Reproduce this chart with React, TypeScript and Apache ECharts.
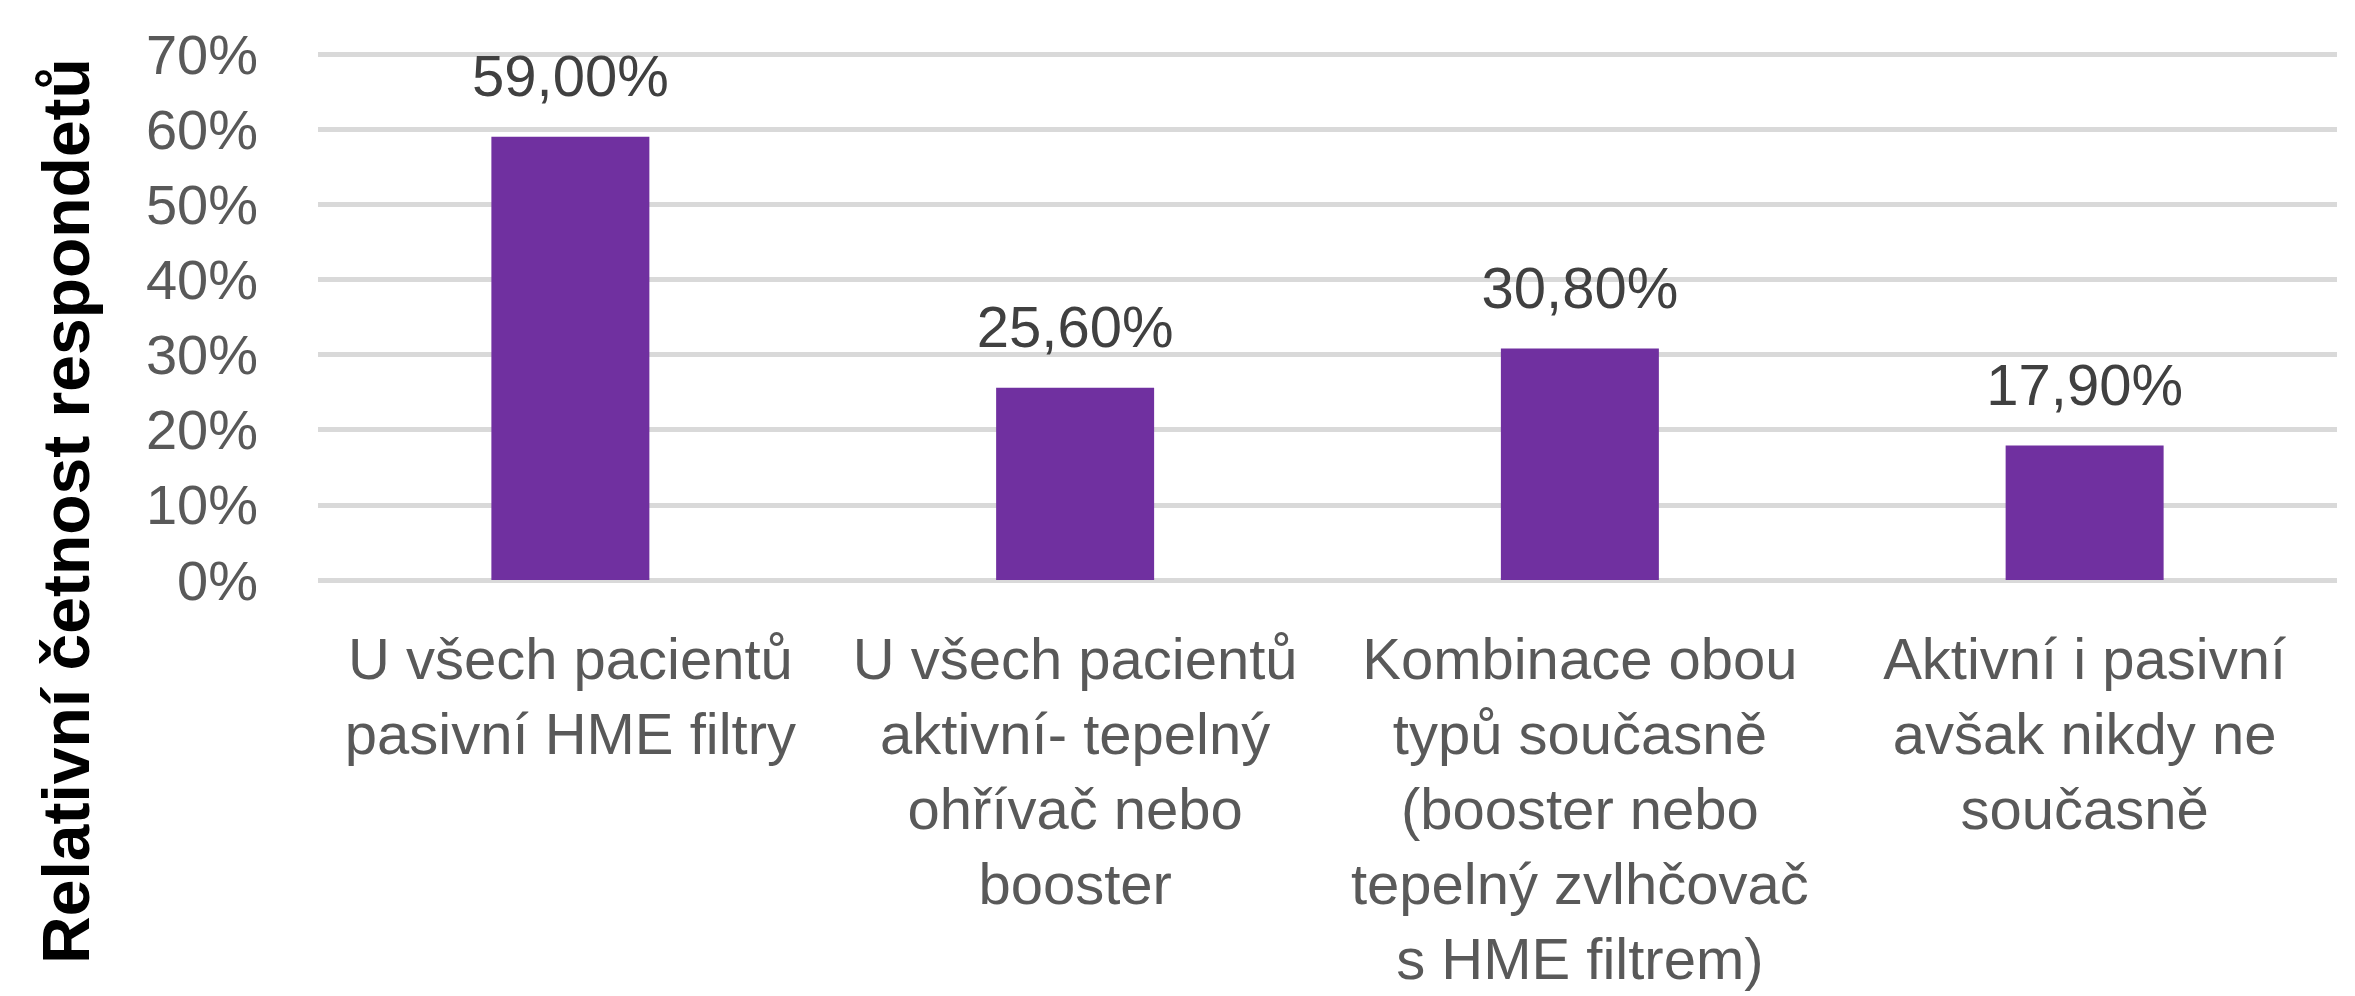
import React, { useEffect, useRef } from "react";
import * as echarts from "echarts";

const categories: string[] = [
  "U všech pacientů\npasivní HME filtry",
  "U všech pacientů\naktivní- tepelný\nohřívač nebo\nbooster",
  "Kombinace obou\ntypů současně\n(booster nebo\ntepelný zvlhčovač\ns HME filtrem)",
  "Aktivní i pasivní\navšak nikdy ne\nsoučasně",
];
const values: number[] = [59.0, 25.6, 30.8, 17.9];
const yAxisTitle = "Relativní četnost respondetů";
const yMin = 0;
const yMax = 70;
const yInterval = 10;

const FONT = "'Liberation Sans', Arial, sans-serif";

export default function App() {
  const ref = useRef<HTMLDivElement>(null);
  useEffect(() => {
    document.body.style.margin = "0";
    if (!ref.current) return;
    const chart = echarts.init(ref.current, undefined, { renderer: "svg" });
    chart.setOption({
      animation: false,
      backgroundColor: "#ffffff",
      grid: { left: 318, right: 18, top: 54, bottom: 411, containLabel: false },
      xAxis: {
        type: "category",
        data: categories,
        axisLine: { show: false },
        axisTick: { show: false },
        axisLabel: {
          interval: 0,
          margin: 41,
          color: "#595959",
          fontFamily: FONT,
          fontSize: 58,
          lineHeight: 75,
          align: "center",
        },
      },
      yAxis: {
        type: "value",
        min: yMin,
        max: yMax,
        interval: yInterval,
        axisLine: { show: false },
        axisTick: { show: false },
        splitLine: { show: true, lineStyle: { color: "#D9D9D9", width: 5 } },
        axisLabel: {
          formatter: "{value}%",
          color: "#595959",
          fontFamily: FONT,
          fontSize: 56,
          margin: 60,
        },
      },
      graphic: [
        {
          type: "text",
          x: 66,
          y: 511,
          rotation: Math.PI / 2,
          style: {
            text: yAxisTitle,
            fill: "#000000",
            fontFamily: FONT,
            fontWeight: "bold",
            fontSize: 66,
            textAlign: "center",
            textVerticalAlign: "middle",
          },
        },
      ],
      series: [
        {
          type: "bar",
          data: values,
          barWidth: "31.3%",
          itemStyle: { color: "#7030A0" },
          label: {
            show: true,
            position: "top",
            distance: 32,
            color: "#404040",
            fontFamily: FONT,
            fontSize: 58,
            formatter: (p: any) => p.value.toFixed(2).replace(".", ",") + "%",
          },
        },
      ],
    });
    return () => chart.dispose();
  }, []);
  return (
    <div
      ref={ref}
      style={{ position: "fixed", left: 0, top: 0, width: 2355, height: 996 }}
    />
  );
}
